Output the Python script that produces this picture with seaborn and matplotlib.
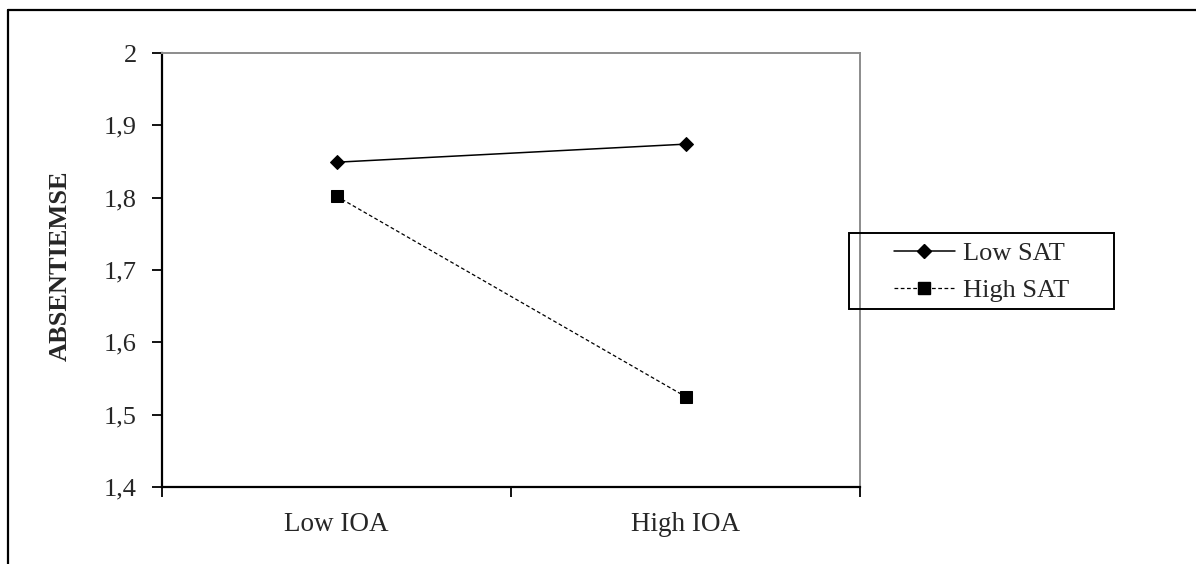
import pandas as pd
import seaborn as sns
import matplotlib.pyplot as plt
from matplotlib.lines import Line2D
from matplotlib.patches import Rectangle
from matplotlib.ticker import FuncFormatter

# data
categories = ["Low IOA", "High IOA"]
low_sat = [1.849, 1.874]
high_sat = [1.802, 1.525]
series_names = ["Low SAT", "High SAT"]

df = pd.DataFrame({
    "x": list(range(len(categories))) * 2,
    "value": low_sat + high_sat,
    "group": [series_names[0]] * 2 + [series_names[1]] * 2,
})

sns.set_style("white")
plt.rcParams["font.family"] = ["Liberation Serif", "DejaVu Serif"]

fig = plt.figure(figsize=(11.96, 5.64), dpi=100)
ax = fig.add_axes([162 / 1196, 1 - 487 / 564, 698 / 1196, 434 / 564])

sns.lineplot(data=df, x="x", y="value", hue="group", style="group",
             palette=["black", "black"], markers={"Low SAT": "D", "High SAT": "s"},
             dashes={"Low SAT": "", "High SAT": (3, 2)},
             ax=ax, legend=False)
# per-line marker sizes and widths
ax.lines[0].set_markersize(7)
ax.lines[0].set_linewidth(1.1)
ax.lines[1].set_markersize(9)
ax.lines[1].set_linewidth(0.9)
for ln in ax.lines[:2]:
    ln.set_markeredgecolor("black")
    ln.set_markerfacecolor("black")

ax.set_xlim(-0.5, 1.5)
ax.set_ylim(1.4, 2.0)
ax.set_yticks([1.4, 1.5, 1.6, 1.7, 1.8, 1.9, 2.0])
ax.yaxis.set_major_formatter(FuncFormatter(lambda v, p: f"{v:g}".replace(".", ",")))
ax.set_xticks(range(len(categories)))
ax.set_xticklabels(categories)
ax.set_xticks([-0.5, 0.5, 1.5], minor=True)
ax.tick_params(axis="x", which="major", bottom=True, length=0, pad=18, labelsize=19.5)
ax.tick_params(axis="x", which="minor", bottom=True, length=7, width=1.3,
               direction="out", color="black")
ax.tick_params(axis="y", left=True, length=7, width=1.3, direction="out",
               color="black", labelsize=19, pad=11)
ax.set_xlabel("")
ax.set_ylabel("ABSENTIEMSE", fontsize=19, fontweight="bold")
ax.yaxis.set_label_coords(-0.129, 0.509)

for side in ["left", "bottom"]:
    ax.spines[side].set_color("black")
    ax.spines[side].set_linewidth(1.6)
for side in ["top", "right"]:
    ax.spines[side].set_visible(True)
    ax.spines[side].set_color("#8c8c8c")
    ax.spines[side].set_linewidth(1.4)

# legend
handles = [
    Line2D([], [], color="black", lw=1.1, marker="D", markersize=7),
    Line2D([], [], color="black", lw=0.9, ls=(0, (3, 2)), marker="s", markersize=9),
]
fig.legend(handles, series_names, loc="center",
           bbox_to_anchor=((849 + 1114) / 2 / 1196, 1 - 272 / 564),
           frameon=False, fontsize=19, handlelength=2.3, handletextpad=0.3,
           labelspacing=0.5)
fig.add_artist(Rectangle((849 / 1196, 1 - 309 / 564), 265 / 1196, 76 / 564,
                         transform=fig.transFigure, fill=False, ec="black", lw=1.4))

# outer chart border (top and left only visible)
fig.add_artist(Line2D([8 / 1196, 1], [1 - 9.5 / 564, 1 - 9.5 / 564],
                      transform=fig.transFigure, color="black", lw=1.6))
fig.add_artist(Line2D([8 / 1196, 8 / 1196], [0, 1 - 9.5 / 564],
                      transform=fig.transFigure, color="black", lw=1.6))

fig.savefig("out.png", dpi=100)
